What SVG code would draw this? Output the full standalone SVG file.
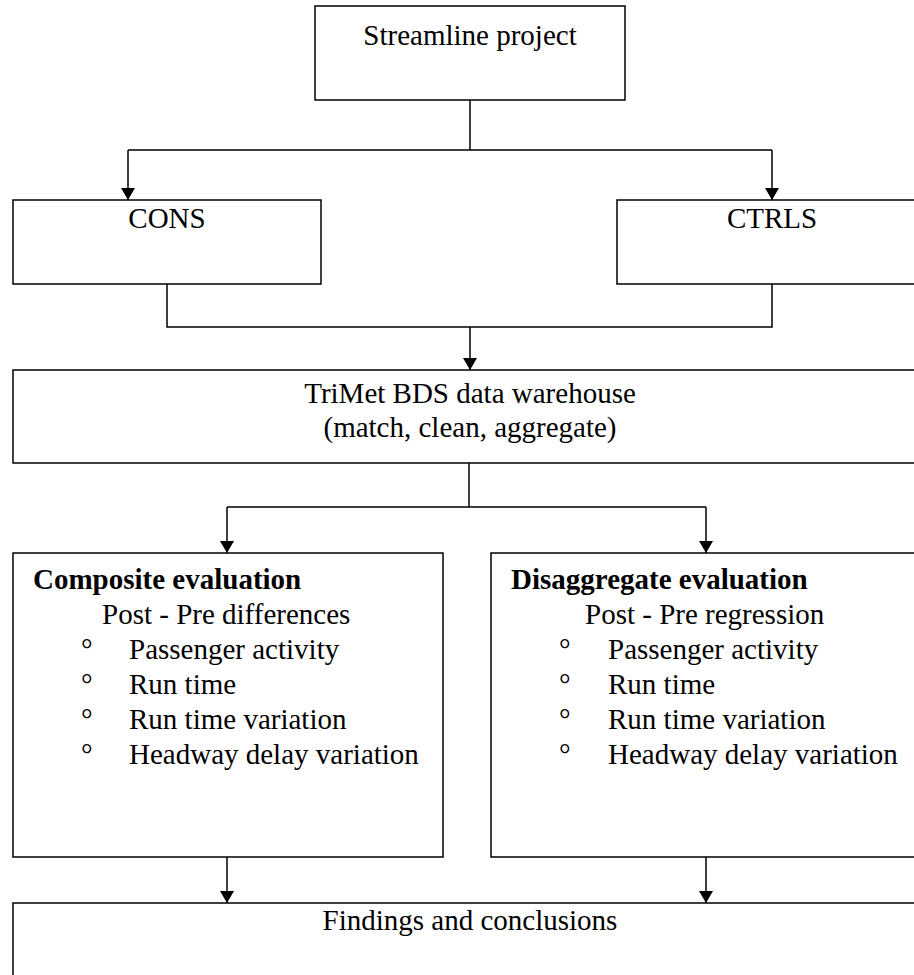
<svg xmlns="http://www.w3.org/2000/svg" width="914" height="975" viewBox="0 0 914 975">
  <style>
    .box { fill: #ffffff; stroke: #000000; stroke-width: 1.5; }
    .wire { fill: none; stroke: #000000; stroke-width: 1.5; }
    text { font-family: "Liberation Serif", "Times New Roman", serif; font-size: 29px; fill: #000000; }
    .c { text-anchor: middle; }
    .b { font-weight: bold; }
  </style>
  <defs>
    <marker id="arrow" viewBox="0 0 12 14" refX="12" refY="7" markerWidth="12" markerHeight="14" markerUnits="userSpaceOnUse" orient="auto">
      <path d="M0,0 L12,7 L0,14 Z" fill="#000000"/>
    </marker>
  </defs>
  <rect width="914" height="975" fill="#ffffff"/>

  <!-- connectors -->
  <g id="connectors">
    <path class="wire" d="M470,100 V150 M128,150 H772"/>
    <path class="wire" d="M128,150 V200" marker-end="url(#arrow)"/>
    <path class="wire" d="M772,150 V200" marker-end="url(#arrow)"/>
    <path class="wire" d="M167,284 V327 H772 V284"/>
    <path class="wire" d="M470,327 V370" marker-end="url(#arrow)"/>
    <path class="wire" d="M469,463 V507 M227,507 H706"/>
    <path class="wire" d="M227,507 V553" marker-end="url(#arrow)"/>
    <path class="wire" d="M706,507 V553" marker-end="url(#arrow)"/>
    <path class="wire" d="M227,857 V903" marker-end="url(#arrow)"/>
    <path class="wire" d="M706,857 V903" marker-end="url(#arrow)"/>
  </g>

  <g id="streamline">
    <rect class="box" x="315" y="6" width="310" height="94"/>
    <text class="c" x="470" y="45">Streamline project</text>
  </g>

  <g id="cons">
    <rect class="box" x="13" y="200" width="308" height="84"/>
    <text class="c" x="167" y="228">CONS</text>
  </g>

  <g id="ctrls">
    <rect class="box" x="617" y="200" width="310" height="84"/>
    <text class="c" x="772" y="228">CTRLS</text>
  </g>

  <g id="warehouse">
    <rect class="box" x="13" y="370" width="914" height="93"/>
    <text class="c" x="470" y="403">TriMet BDS data warehouse</text>
    <text class="c" x="470" y="437">(match, clean, aggregate)</text>
  </g>

  <g id="composite">
    <rect class="box" x="13" y="553" width="430" height="304"/>
    <text class="b" x="33" y="589">Composite evaluation</text>
    <text x="102" y="624">Post - Pre differences</text>
    <text x="81" y="659">°</text><text x="129" y="659">Passenger activity</text>
    <text x="81" y="694">°</text><text x="129" y="694">Run time</text>
    <text x="81" y="729">°</text><text x="129" y="729">Run time variation</text>
    <text x="81" y="764">°</text><text x="129" y="764">Headway delay variation</text>
  </g>

  <g id="disaggregate">
    <rect class="box" x="491" y="553" width="436" height="304"/>
    <text class="b" x="511" y="589">Disaggregate evaluation</text>
    <text x="585" y="624">Post - Pre regression</text>
    <text x="559" y="659">°</text><text x="608" y="659">Passenger activity</text>
    <text x="559" y="694">°</text><text x="608" y="694">Run time</text>
    <text x="559" y="729">°</text><text x="608" y="729">Run time variation</text>
    <text x="559" y="764">°</text><text x="608" y="764">Headway delay variation</text>
  </g>

  <g id="findings">
    <rect class="box" x="13" y="903" width="914" height="100"/>
    <text class="c" x="470" y="930">Findings and conclusions</text>
  </g>
</svg>
